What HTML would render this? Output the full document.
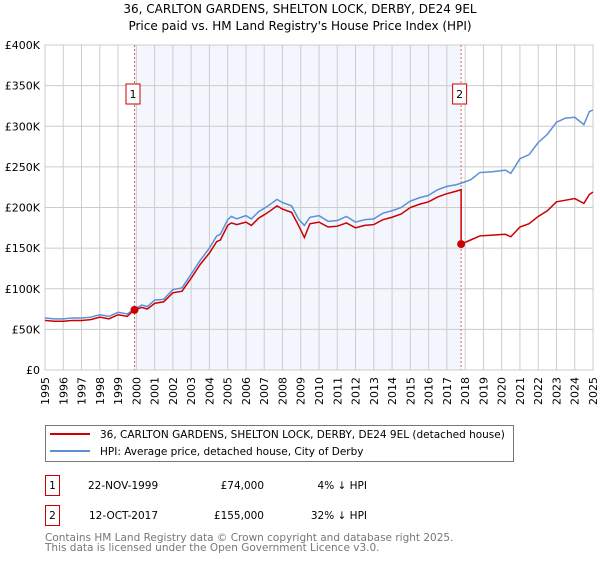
<!DOCTYPE html>
<html><head><meta charset="utf-8">
<style>
body{margin:0;background:#fff;width:600px;height:560px;overflow:hidden;font-family:"DejaVu Sans","Liberation Sans",sans-serif;}
svg text{font-family:"DejaVu Sans","Liberation Sans",sans-serif;}
</style></head>
<body>
<svg id="chart" width="600" height="560" viewBox="0 0 600 560" xmlns="http://www.w3.org/2000/svg">
<text x="300" y="13" font-size="12" text-anchor="middle">36, CARLTON GARDENS, SHELTON LOCK, DERBY, DE24 9EL</text>
<text x="300" y="30" font-size="12" text-anchor="middle">Price paid vs. HM Land Registry's House Price Index (HPI)</text>
<g id="plot"></g>
<g>
<rect x="45.5" y="425.5" width="468" height="36" fill="#fff" stroke="#777"/>
<line x1="50" y1="434" x2="90" y2="434" stroke="#cc0000" stroke-width="2"/>
<text x="100" y="438" font-size="10.5">36, CARLTON GARDENS, SHELTON LOCK, DERBY, DE24 9EL (detached house)</text>
<line x1="50" y1="451" x2="90" y2="451" stroke="#5b8fd6" stroke-width="2"/>
<text x="100" y="455" font-size="10.5">HPI: Average price, detached house, City of Derby</text>
</g>
<g font-size="10.5">
<rect x="45.5" y="475.5" width="14" height="20" fill="#fff" stroke="#cc0000"/>
<text x="52.5" y="489" text-anchor="middle">1</text>
<text x="88" y="489">22-NOV-1999</text>
<text x="264" y="489" text-anchor="end">£74,000</text>
<text x="367" y="489" text-anchor="end">4% ↓ HPI</text>
<rect x="45.5" y="505.5" width="14" height="20" fill="#fff" stroke="#cc0000"/>
<text x="52.5" y="519" text-anchor="middle">2</text>
<text x="89" y="519">12-OCT-2017</text>
<text x="264" y="519" text-anchor="end">£155,000</text>
<text x="367" y="519" text-anchor="end">32% ↓ HPI</text>
</g>
<text x="45" y="541" font-size="10.5" fill="#777">Contains HM Land Registry data © Crown copyright and database right 2025.</text>
<text x="45" y="551" font-size="10.5" fill="#777">This data is licensed under the Open Government Licence v3.0.</text>
</svg>
<script>
const yTicks=[0,50,100,150,200,250,300,350,400];
const yTickLabels=["£0","£50K","£100K","£150K","£200K","£250K","£300K","£350K","£400K"];
const years=[1995,1996,1997,1998,1999,2000,2001,2002,2003,2004,2005,2006,2007,2008,2009,2010,2011,2012,2013,2014,2015,2016,2017,2018,2019,2020,2021,2022,2023,2024,2025];
const hpiT=[1995,1995.5,1996,1996.5,1997,1997.5,1998,1998.5,1999,1999.5,1999.9,2000.3,2000.6,2001,2001.5,2002,2002.5,2003,2003.5,2004,2004.4,2004.6,2005,2005.2,2005.5,2006,2006.3,2006.7,2007,2007.4,2007.7,2008,2008.5,2008.9,2009.2,2009.5,2010,2010.5,2011,2011.5,2012,2012.5,2013,2013.5,2014,2014.5,2015,2015.5,2016,2016.5,2017,2017.5,2017.8,2018.3,2018.8,2019.5,2020.2,2020.5,2021,2021.5,2022,2022.5,2023,2023.5,2024,2024.5,2024.8,2025];
const hpiV=[64,63,63,64,64,65,68,66,71,69,75,80,78,86,87,99,101,118,135,150,165,167,185,189,186,190,186,195,199,205,210,206,202,185,178,188,190,183,184,189,182,185,186,193,196,200,208,212,215,222,226,228,230,234,243,244,246,242,260,265,280,290,305,310,311,302,318,320];
const redT=[1995,1995.5,1996,1996.5,1997,1997.5,1998,1998.5,1999,1999.5,1999.9,2000.3,2000.6,2001,2001.5,2002,2002.5,2003,2003.5,2004,2004.4,2004.6,2005,2005.2,2005.5,2006,2006.3,2006.7,2007,2007.4,2007.7,2008,2008.5,2008.9,2009.2,2009.5,2010,2010.5,2011,2011.5,2012,2012.5,2013,2013.5,2014,2014.5,2015,2015.5,2016,2016.5,2017,2017.5,2017.78,2017.78,2018.3,2018.8,2019.5,2020.2,2020.5,2021,2021.5,2022,2022.5,2023,2023.5,2024,2024.5,2024.8,2025];
const redV=[61,60,60,61,61,62,65,63,68,66,74,77,75,82,84,95,97,113,130,144,158,160,178,181,179,182,178,187,191,197,202,198,194,177,163,180,182,176,177,181,175,178,179,185,188,192,200,204,207,213,217,220,222,155,160,165,166,167,164,176,180,189,196,207,209,211,205,216,219];
const sales=[{t:1999.9,v:74,label:"1"},{t:2017.78,v:155,label:"2"}];
const x0=45,x1=593,yTop=45,yBot=370;
function xs(t){return x0+(t-1995)/(2025-1995)*(x1-x0);}
function ys(v){return yBot-v/400*(yBot-yTop);}
const NS="http://www.w3.org/2000/svg";
const g=document.getElementById('plot');
function mk(tag,attrs){const e=document.createElementNS(NS,tag);for(const k in attrs)e.setAttribute(k,attrs[k]);g.appendChild(e);return e;}
const shade=mk('rect',{x:xs(sales[0].t),y:yTop,width:xs(sales[1].t)-xs(sales[0].t),height:yBot-yTop,fill:'#f3f6fd'});


years.forEach(y=>{const l=mk('line',{x1:xs(y),x2:xs(y),y1:yTop,y2:yBot,stroke:'#ccc','stroke-width':1});


const t=mk('text',{x:0,y:0,'font-size':11,'text-anchor':'end',transform:`translate(${xs(y)+4},377) rotate(-90)`});t.textContent=y;

});
yTicks.forEach((v,i)=>{const l=mk('line',{x1:x0,x2:x1,y1:ys(v),y2:ys(v),stroke:'#ccc','stroke-width':1});


const t=mk('text',{x:40,y:ys(v)+4,'font-size':11,'text-anchor':'end'});t.textContent=yTickLabels[i];

});
const frame=mk('rect',{x:x0,y:yTop,width:x1-x0,height:yBot-yTop,fill:'none',stroke:'#ccc'});


sales.forEach(s=>{const l=mk('line',{x1:xs(s.t),x2:xs(s.t),y1:yTop,y2:yBot,stroke:'#e06060','stroke-dasharray':'2,2'});


const r=mk('rect',{x:xs(s.t)-8.5,y:84,width:14,height:20,fill:'#fff',stroke:'#cc0000'});


const t=mk('text',{x:xs(s.t)-1.5,y:98,'font-size':11,'text-anchor':'middle'});t.textContent=s.label;

});
const hp=mk('polyline',{points:hpiT.map((t,i)=>xs(t)+','+ys(hpiV[i])).join(' '),fill:'none',stroke:'#5b8fd6','stroke-width':1.5});


const rp=mk('polyline',{points:redT.map((t,i)=>xs(t)+','+ys(redV[i])).join(' '),fill:'none',stroke:'#cc0000','stroke-width':1.5});


sales.forEach(s=>{const c=mk('circle',{cx:xs(s.t),cy:ys(s.v),r:4,fill:'#cc0000'});

});
</script>
</body></html>
